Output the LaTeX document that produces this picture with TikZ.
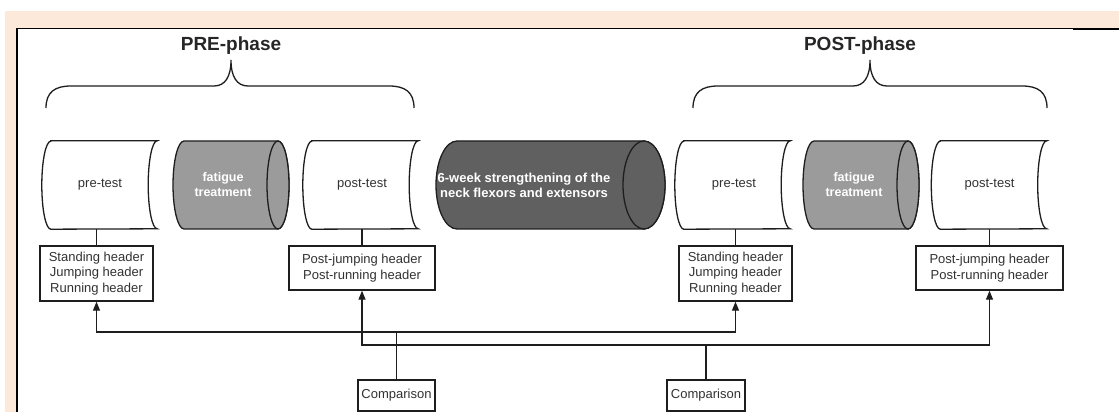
\documentclass[tikz,border=0pt]{standalone}
\usepackage{fontspec}
\setmainfont{Liberation Sans}
\usetikzlibrary{arrows.meta}
\definecolor{peach}{RGB}{252,233,218}
\definecolor{txtgray}{RGB}{50,50,50}
\definecolor{linegray}{RGB}{30,30,30}
\definecolor{fatgray}{RGB}{155,155,155}
\definecolor{biggray}{RGB}{96,96,96}
\begin{document}
\begin{tikzpicture}[x=1pt,y=1pt,
  outline/.style={draw=linegray,line width=1.3pt,fill=white},
  cylout/.style={draw=linegray,line width=1.3pt},
  store/.style={minimum width=106pt,minimum height=88pt,inner sep=0pt,text=txtgray,font=\fontsize{13}{15}\selectfont},
  cyltext/.style={inner sep=0pt,text=white,align=center,font=\bfseries\fontsize{12.5}{15}\selectfont},
  infobox/.style={draw=linegray,line width=1.4pt,fill=white,inner sep=0pt,align=center,text=txtgray,font=\fontsize{13}{15.5}\selectfont},
  conn/.style={draw=linegray,line width=1.3pt},
  biarrow/.style={{Triangle[length=9pt,width=7pt]}-{Triangle[length=9pt,width=7pt]}},
  bracel/.style={draw=linegray,line width=1.3pt},
  title/.style={font=\bfseries\fontsize{19}{22}\selectfont,text=black!85,anchor=base}
]
\useasboundingbox (0,0) rectangle (1119,412);
% background
\fill[white] (0,0) rectangle (1119,412);
\fill[peach] (5,0) rectangle (1119,401);
\fill[white] (17,0) rectangle (1119,383.5);
\draw[line width=1.2pt] (16,383.5) -- (1073,383.5);
\draw[line width=2pt] (1073,383.2) -- (1119,383.2);
\draw[line width=2pt] (17,0) -- (17,384);

% titles and braces
\node[title] (tpre) at (231,361) {PRE-phase};
\node[title] (tpost) at (860,361) {POST-phase};
\draw[bracel] (46,304) .. controls (46,320) and (55,326) .. (71,326) -- (214,326)
  .. controls (225,326) and (231,335) .. (231,352)
  .. controls (231,335) and (237,326) .. (248,326) -- (389,326)
  .. controls (405,326) and (414,320) .. (414,304);
\draw[bracel] (693,304) .. controls (693,320) and (702,326) .. (718,326) -- (853,326)
  .. controls (864,326) and (870,335) .. (870,352)
  .. controls (870,335) and (876,326) .. (887,326) -- (1022,326)
  .. controls (1038,326) and (1047,320) .. (1047,304);

% stored-data shapes
\node[store] (preA) at (104,227) {};
\draw[outline] (preA.north west) -- (preA.north east) arc[start angle=90,end angle=270,x radius=9,y radius=44] -- (preA.south west) arc[start angle=270,end angle=90,x radius=9,y radius=44] -- cycle;
\node[store] at (preA.center) {\kern-8pt pre-test};

\node[store] (postA) at (365,227) {};
\draw[outline] (postA.north west) -- (postA.north east) arc[start angle=90,end angle=270,x radius=9,y radius=44] -- (postA.south west) arc[start angle=270,end angle=90,x radius=9,y radius=44] -- cycle;
\node[store] at (postA.center) {\kern-6pt post-test};

\node[store] (preB) at (737,227) {};
\draw[outline] (preB.north west) -- (preB.north east) arc[start angle=90,end angle=270,x radius=9,y radius=44] -- (preB.south west) arc[start angle=270,end angle=90,x radius=9,y radius=44] -- cycle;
\node[store] at (preB.center) {\kern-6pt pre-test};

\node[store] (postB) at (993.5,227) {};
\draw[outline] (postB.north west) -- (postB.north east) arc[start angle=90,end angle=270,x radius=9,y radius=44] -- (postB.south west) arc[start angle=270,end angle=90,x radius=9,y radius=44] -- cycle;
\node[store] at (postB.center) {\kern-8pt post-test};

% cylinders
\path[cylout,fill=fatgray] (184,271) -- (278,271) arc[start angle=90,end angle=-90,x radius=11,y radius=44] -- (184,183) arc[start angle=270,end angle=90,x radius=11,y radius=44] -- cycle;
\path[cylout,fill=fatgray] (278,227) ellipse[x radius=11,y radius=44];
\node[cyltext] (fatA) at (223,227) {fatigue\\treatment};

\path[cylout,fill=biggray] (457,271) -- (644,271) arc[start angle=90,end angle=-90,x radius=21,y radius=44] -- (457,183) arc[start angle=270,end angle=90,x radius=21,y radius=44] -- cycle;
\path[cylout,fill=biggray] (644,227) ellipse[x radius=21,y radius=44];
\node[cyltext,font=\bfseries\fontsize{13}{15}\selectfont] (big) at (524,227) {6-week strengthening of the\\neck flexors and extensors};

\path[cylout,fill=fatgray] (814,271) -- (908,271) arc[start angle=90,end angle=-90,x radius=11,y radius=44] -- (814,183) arc[start angle=270,end angle=90,x radius=11,y radius=44] -- cycle;
\path[cylout,fill=fatgray] (908,227) ellipse[x radius=11,y radius=44];
\node[cyltext] (fatB) at (854,227) {fatigue\\treatment};

% info boxes
\node[infobox,minimum width=113pt,minimum height=55pt] (boxA) at (96.5,138.5) {Standing header\\Jumping header\\Running header};
\node[infobox,minimum width=146pt,minimum height=44pt] (boxB) at (362,144) {Post-jumping header\\Post-running header};
\node[infobox,minimum width=113pt,minimum height=55pt] (boxC) at (735.5,138.5) {Standing header\\Jumping header\\Running header};
\node[infobox,minimum width=147pt,minimum height=44pt] (boxD) at (989.5,144) {Post-jumping header\\Post-running header};
\node[infobox,minimum width=77pt,minimum height=31pt] (cmpA) at (396.5,16.5) {Comparison};
\node[infobox,minimum width=78pt,minimum height=31pt] (cmpB) at (706,16.5) {Comparison};

% connectors from shapes to boxes
\draw[conn] (boxA.north) -- (boxA.north |- preA.south);
\draw[conn] (boxB.north) -- (boxB.north |- postA.south);
\draw[conn] (boxC.north) -- (boxC.north |- preB.south);
\draw[conn] (boxD.north) -- (boxD.north |- postB.south);

% comparison lines
\coordinate (l1) at (0,80);
\coordinate (l2) at (0,67);
\draw[conn,biarrow] (boxA.south) -- (boxA.south |- l1) -| (boxC.south);
\draw[conn,biarrow] (boxB.south) -- (boxB.south |- l2) -| (boxD.south);
\draw[conn] (cmpA.north) -- (cmpA.north |- l1);
\draw[conn] (cmpB.north) -- (cmpB.north |- l2);
\end{tikzpicture}
\end{document}
